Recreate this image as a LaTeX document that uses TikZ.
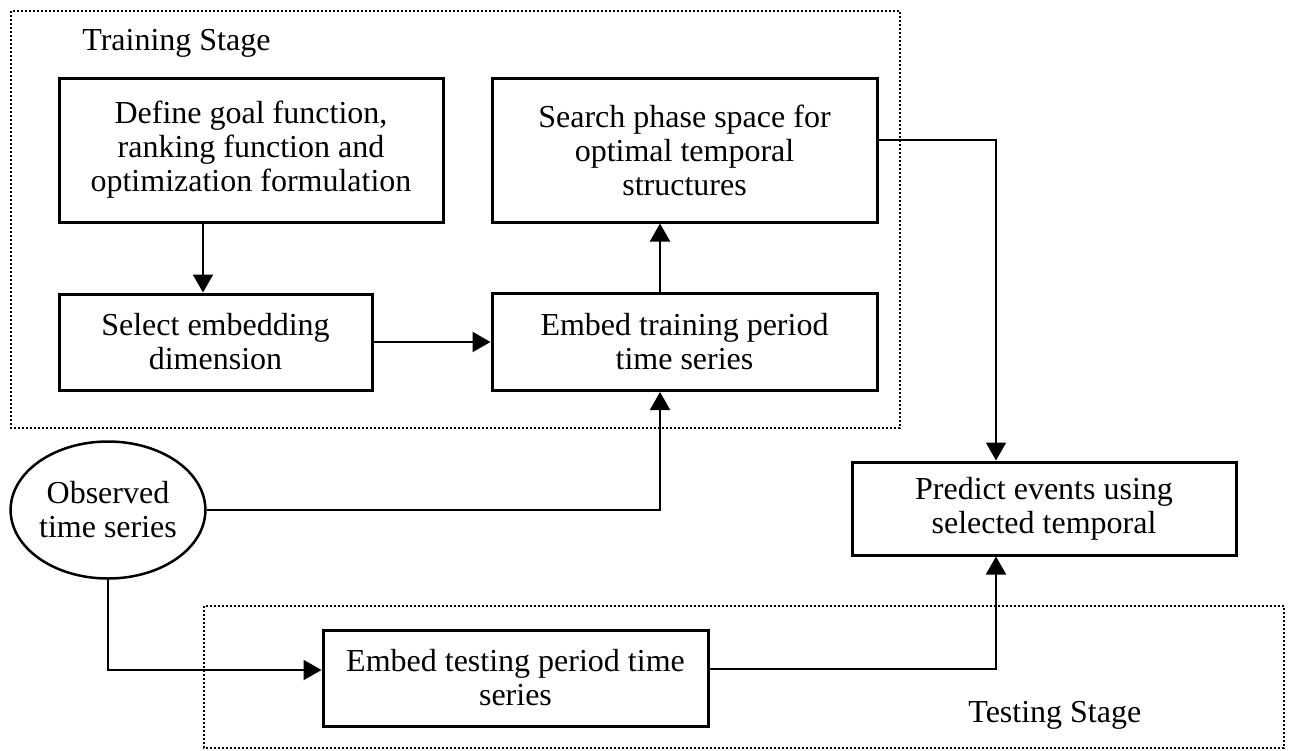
\documentclass[tikz,border=0pt]{standalone}
\usepackage{fontspec}
\setmainfont{Liberation Serif}
\usetikzlibrary{arrows.meta,calc,shapes.geometric}
\begin{document}
\begin{tikzpicture}[x=0.5pt,y=-0.5pt,
  txt/.style={font=\fontsize{16}{17}\selectfont},
  box/.style={txt,draw,line width=1.5pt,align=center,inner sep=0pt},
  oval/.style={txt,draw,ellipse,line width=1.25pt,align=center,inner sep=0pt},
  arr/.style={line width=1pt,-{Triangle[length=9pt,width=10pt]}},
  dotbox/.style={line width=1pt,dash pattern=on 1pt off 1pt}]
\useasboundingbox (0,0) rectangle (1290,750);
% stage frames
\draw[dotbox] (11,11) rectangle (900,428);
\draw[dotbox] (204,606) rectangle (1284,748);
\node[txt,anchor=base west,inner sep=0pt] (trainlbl) at (82,50) {Training Stage};
\node[txt,anchor=base west,inner sep=0pt] (testlbl) at (968,722) {Testing Stage};
% nodes
\node[box,minimum width=192pt,minimum height=72pt] (b1) at (251,150)
  {Define goal function,\\ranking function and\\optimization formulation};
\node[box,minimum width=192.5pt,minimum height=72pt] (b2) at (684.5,150)
  {Search phase space for\\optimal temporal\\structures};
\node[box,minimum width=156.5pt,minimum height=48pt] (b3) at (215.5,342)
  {Select embedding\\dimension};
\node[box,minimum width=192.5pt,minimum height=48.5pt] (b4) at (684.5,342)
  {Embed training period\\time series};
\node[oval,minimum width=96pt,minimum height=68.5pt] (ell) at (108,510)
  {Observed\\time series};
\node[box,minimum width=192pt,minimum height=46.5pt] (b5) at (1044,508.5)
  {Predict events using\\selected temporal};
\node[box,minimum width=192.5pt,minimum height=48pt] (b6) at (515.5,678)
  {Embed testing period time\\series};
% connectors
\draw[arr] ([xshift=-24pt]b1.south) -- ([xshift=-6.25pt]b3.north);
\draw[arr] (b3.east) -- (b4.west);
\draw[arr] ([xshift=-12.25pt]b4.north) -- ([xshift=-12.25pt]b2.south);
\draw[arr] (ell.east) -| ([xshift=-12.25pt]b4.south);
\draw[arr] ([yshift=5pt]b2.east) -| ([xshift=-24pt]b5.north);
\draw[arr] (ell.south) |- ([yshift=4pt]b6.west);
\draw[arr] ([yshift=4.5pt]b6.east) -| ([xshift=-24pt]b5.south);
\end{tikzpicture}
\end{document}
